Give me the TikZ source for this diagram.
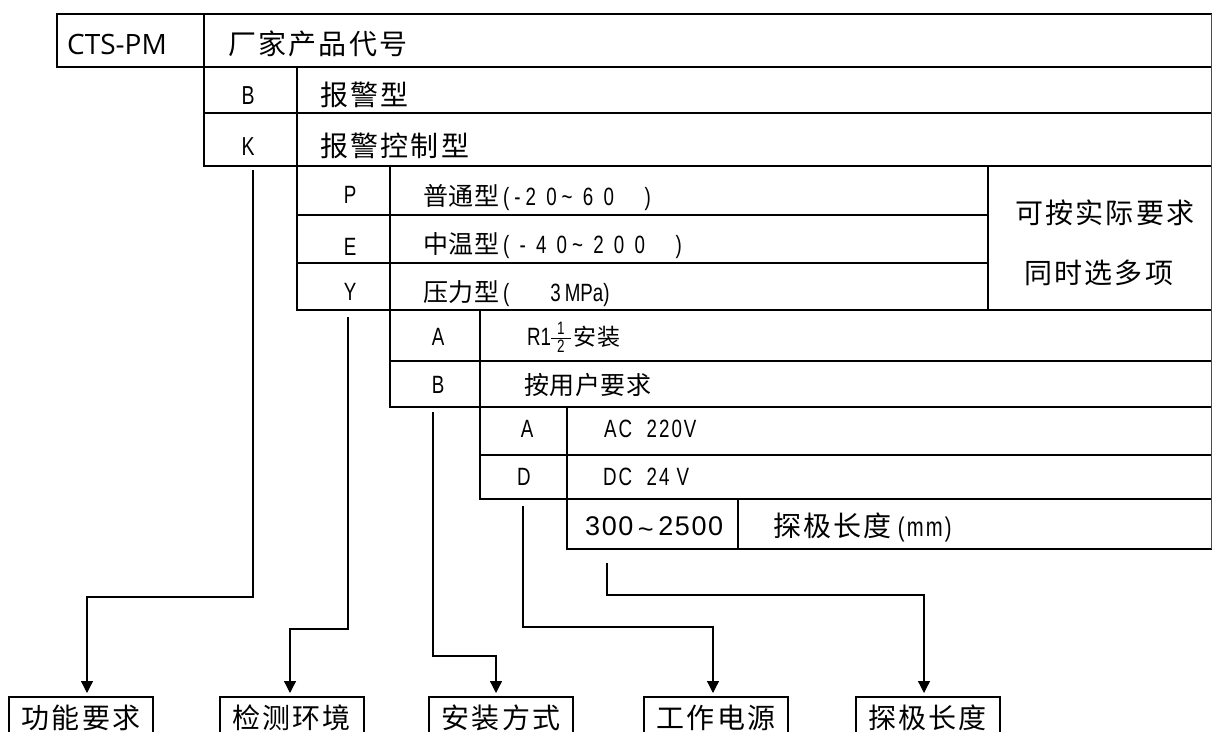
\documentclass[tikz,border=0pt]{standalone}
\usepackage{fontspec}
\setmainfont{Liberation Sans}
\newfontfamily\cjk[LetterSpace=8]{Noto Sans CJK SC}
\newfontfamily\cjks[LetterSpace=2]{Noto Sans CJK SC}
\newfontfamily\nar[FakeStretch=0.75]{Liberation Sans}
\newfontfamily\narsp[FakeStretch=0.75,LetterSpace=20]{Liberation Sans}
\newfontfamily\narac[FakeStretch=0.75,LetterSpace=8]{Liberation Sans}
\newfontfamily\opn{Open Sans}
\newfontfamily\lib[LetterSpace=6]{Liberation Sans}
\newcommand\halfrac{{\fontsize{18}{18}\nar\setlength\arrayrulewidth{1pt}\renewcommand\arraystretch{0.72}\raisebox{-7pt}{\begin{tabular}[b]{@{\hspace{6pt}}c@{\hspace{6pt}}}1\\\hline 2\end{tabular}}}}
\usetikzlibrary{arrows.meta}
\begin{document}
\begin{tikzpicture}[x=1pt,y=-1pt,
  grid/.style={line width=2pt,line cap=rect},
  conn/.style={line width=1.3pt,-{Triangle[width=12pt,length=12pt]},shorten >=3pt},
  txt/.style={anchor=base west,inner sep=0pt},
  code/.style={anchor=base,inner sep=0pt,font=\fontsize{25}{25}\nar},
  big/.style={font=\fontsize{28}{28}\cjk},
  mid/.style={font=\fontsize{25}{25}\cjks},
  bot/.style={draw,line width=2pt,minimum width=144pt,minimum height=41pt,inner sep=0pt,anchor=north,font=\fontsize{28}{28}\cjk}
]
\clip (0,0) rectangle (1212,731);
\fill[white] (0,0) rectangle (1212,731);
% table lines
\draw[grid] (57,14) -- (1211,14);
\draw[grid] (57,14) -- (57,67) -- (1211,67);
\draw[grid] (204,14) -- (204,166);
\draw[grid] (204,113) -- (1211,113);
\draw[grid] (204,166) -- (1211,166);
\draw[grid] (297,67) -- (297,310);
\draw[grid] (297,215) -- (988,215);
\draw[grid] (297,263) -- (988,263);
\draw[grid] (297,310) -- (1211,310);
\draw[grid] (390,166) -- (390,407);
\draw[grid] (988,166) -- (988,310);
\draw[grid] (390,361) -- (1211,361);
\draw[grid] (390,407) -- (1211,407);
\draw[grid] (480,310) -- (480,499);
\draw[grid] (480,455) -- (1211,455);
\draw[grid] (480,499) -- (1211,499);
\draw[grid] (567,407) -- (567,549);
\draw[grid] (738,499) -- (738,549);
\draw[grid] (567,549) -- (1211,549);
\draw[line width=1pt,black!70] (1211,14) -- (1211,549);
% texts
\node[txt,font=\fontsize{28}{28}\opn] (cts) at (67,54) {CTS-PM};
\node[txt,big] (mfr) at (228,54) {厂家产品代号};
\node[code,font=\fontsize{26}{26}\nar] (bc) at (248,104) {B};
\node[txt,big] (bt) at (320,105) {报警型};
\node[code,font=\fontsize{26}{26}\nar] (kc) at (248,155) {K};
\node[txt,big] (kt) at (320,156) {报警控制型};
\node[code] (pc) at (350,203) {P};
\node[txt,mid] (pt) at (423,205) {普通型\hspace{4pt}{\fontsize{25}{25}\narsp (-2\ 0\textasciitilde\ 6\ 0\ \ \ )}};
\node[code] (ec) at (350,255) {E};
\node[txt,mid] (et) at (423,253) {中温型\hspace{4pt}{\fontsize{25}{25}\narsp (\ -\ 4\ 0\textasciitilde\ 2\ 0\ 0\ \ \ )}};
\node[code] (yc) at (350,300) {Y};
\node[txt,mid] (yt) at (423,301) {压力型\hspace{4pt}{\fontsize{25}{25}\narsp (\ \ \ \ 3}\,{\fontsize{25}{25}\nar MPa)}};
\node[txt,big] (r1) at (1015,223) {可按实际要求};
\node[txt,big] (r2) at (1024,283) {同时选多项};
\node[code] (ia) at (438,345) {A};
\node[txt,font=\fontsize{25}{25}\nar] (iat) at (527,345) {R1\halfrac\hspace{3pt}{\fontsize{23}{23}\cjks 安装}};
\node[code] (ib) at (438,393) {B};
\node[txt,mid] (ibt) at (524,394) {按用户要求};
\node[code] (pa) at (527,437) {A};
\node[txt,font=\fontsize{25}{25}\narac] (pat) at (604,437) {AC\ \ 220V};
\node[code] (pd) at (524,485) {D};
\node[txt,font=\fontsize{25}{25}\narac] (pdt) at (603,485) {DC\ \ 24\ V};
\node[txt,font=\fontsize{27}{27}\lib] (len) at (585,535) {300\,\raisebox{-3pt}{\textasciitilde}\,2500};
\node[txt,big] (lent) at (773,536) {探极长度\hspace{6pt}{\fontsize{27}{27}\narac (mm)}};
% bottom boxes
\node[bot] (f1) at (81,696) {功能要求};
\node[bot] (f2) at (291.5,696) {检测环境};
\node[bot] (f3) at (501,696) {安装方式};
\node[bot] (f4) at (716,696) {工作电源};
\node[bot] (f5) at (927.5,696) {探极长度};
% connector start points
\coordinate (kout) at (253,170);
\coordinate (yout) at (348,317);
\coordinate (iout) at (433,412);
\coordinate (dout) at (523,506);
\coordinate (lout) at (607,563);
% connectors
\draw[conn] (kout) -- (kout |- 0,597) -| ([xshift=6pt]f1.north);
\draw[conn] (yout) -- (yout |- 0,629) -| ([xshift=-1.5pt]f2.north);
\draw[conn] (iout) -- (iout |- 0,656) -| ([xshift=-5pt]f3.north);
\draw[conn] (dout) -- (dout |- 0,627) -| ([xshift=-3pt]f4.north);
\draw[conn] (lout) -- (lout |- 0,595) -| ([xshift=-3.5pt]f5.north);
\end{tikzpicture}
\end{document}
